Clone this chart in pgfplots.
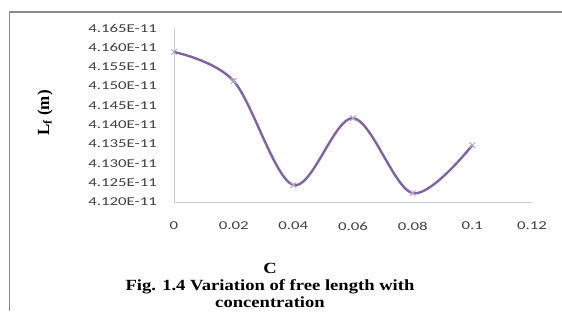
\documentclass[border=0pt]{standalone}
\usepackage{pgfplots}
\pgfplotsset{compat=1.18}
\usepackage{fontspec}
\setmainfont{Liberation Serif}
\newfontfamily\tickfont[FakeStretch=1.4]{Carlito}
\newfontfamily\capfont[FakeStretch=1.2]{Liberation Serif}
\definecolor{excelpurple}{HTML}{8064A2}
\definecolor{markpurple}{HTML}{B7A6D0}
\begin{document}
\begin{tikzpicture}[x=1pt,y=1pt]
\useasboundingbox (0,0) rectangle (562,311);
\draw[black!45, line width=1.6pt] (9.5,0) -- (9.5,299) -- (562,299);
\begin{axis}[
  at={(174pt,109pt)}, anchor=south west,
  scale only axis, width=358pt, height=174pt,
  xmin=0, xmax=0.12, ymin=4.120, ymax=4.165,
  axis x line=bottom, axis y line=left,
  axis line style={draw=black!20, line width=1pt, -},
  major tick length=0pt,
  xtick={0,0.02,0.04,0.06,0.08,0.1,0.12},
  xticklabels={0,0.02,0.04,0.06,0.08,0.1,0.12},
  ytick={4.120,4.125,4.130,4.135,4.140,4.145,4.150,4.155,4.160,4.165},
  yticklabels={4.120E-11,4.125E-11,4.130E-11,4.135E-11,4.140E-11,4.145E-11,4.150E-11,4.155E-11,4.160E-11,4.165E-11},
  ticklabel style={font=\tickfont\fontsize{12}{14}\selectfont, text=black!75},
  yticklabel style={anchor=east, inner sep=0pt, xshift=-17pt},
  xticklabel style={anchor=north, inner sep=0pt, yshift=-20pt},
  clip=false,
]
\addplot[excelpurple, line width=2.4pt, smooth, tension=0.55,
  mark=x, mark size=4pt, mark options={draw=markpurple, line width=1pt}]
  coordinates {
  (0,4.1588) (0.02,4.1513) (0.04,4.1244) (0.06,4.1417) (0.08,4.1223) (0.1,4.1347)
  };
\end{axis}
\node[rotate=90, font=\bfseries\fontsize{17}{19}\selectfont, inner sep=0pt] at (45,198) {L\textsubscript{f} (m)};
\node[font=\capfont\bfseries\fontsize{15.5}{17}\selectfont, inner sep=0pt] at (270,43) {C};
\node[font=\capfont\bfseries\fontsize{15.5}{17}\selectfont, inner sep=0pt] at (270,24) {Fig. 1.4 Variation of free length with};
\node[font=\capfont\bfseries\fontsize{15.5}{17}\selectfont, inner sep=0pt] at (270,9) {concentration};
\end{tikzpicture}
\end{document}
